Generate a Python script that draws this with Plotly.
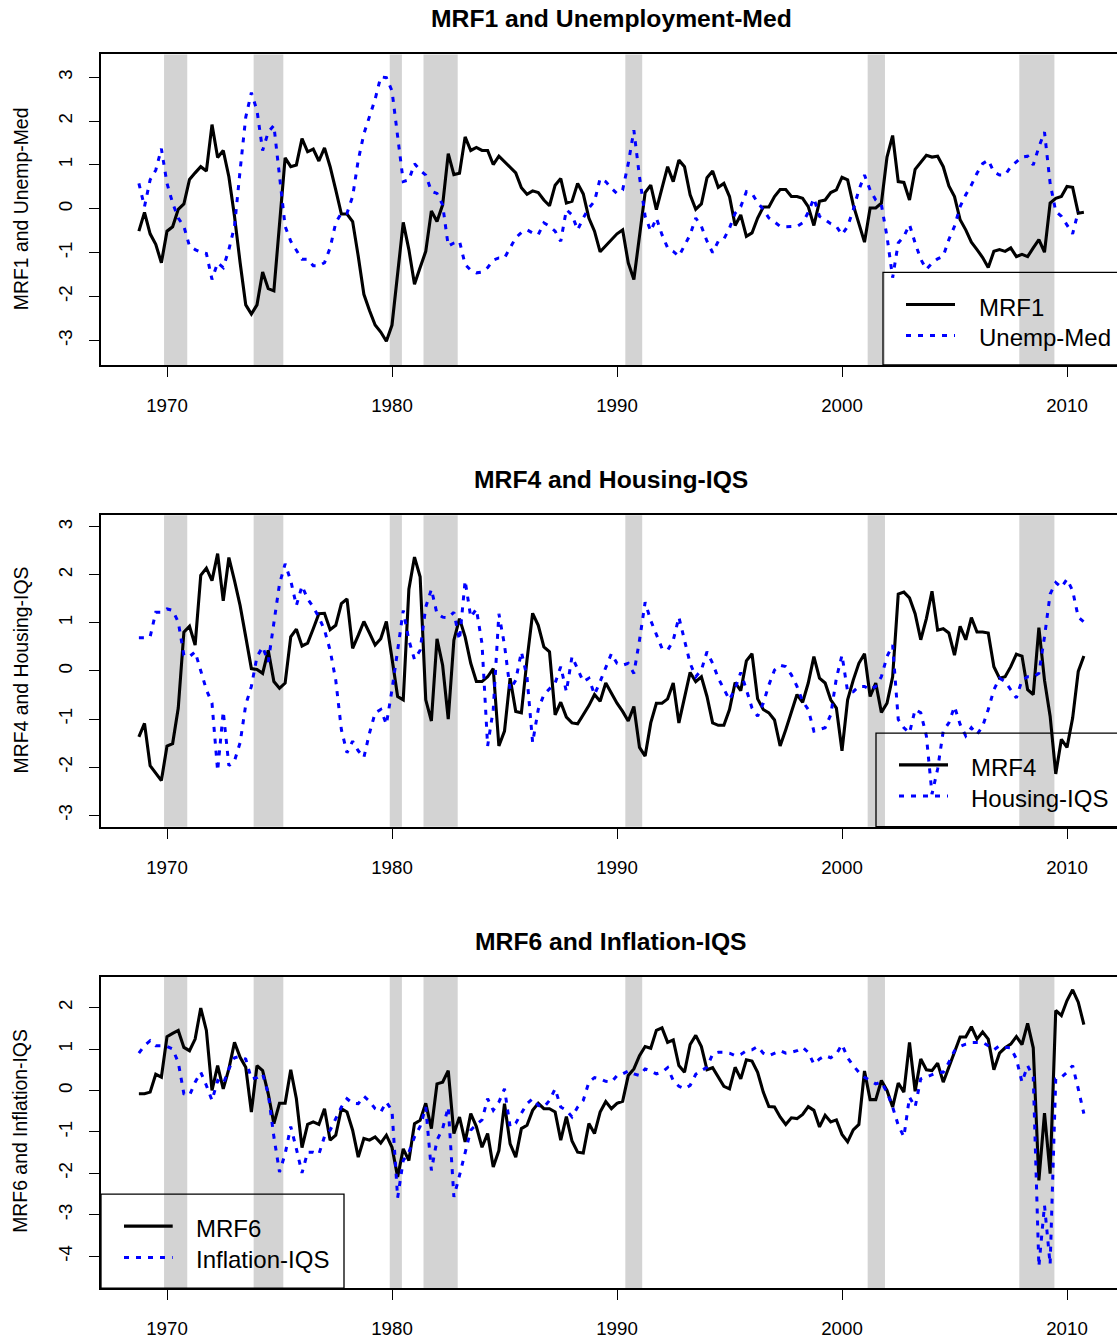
import plotly.graph_objects as go

# ---------------- data (quarterly, starting 1968 Q4 = 1968.75) ----------------
START_YEAR = 1968.75
STEP = 0.25

mrf1 = [-0.51, -0.08, -0.57, -0.81, -1.23, -0.51, -0.41, -0.01, 0.11, 0.67,
        0.82, 0.96, 0.86, 1.92, 1.17, 1.33, 0.73, -0.17, -1.23, -2.19,
        -2.40, -2.19, -1.44, -1.82, -1.87, -0.36, 1.16, 0.96, 1.00, 1.60,
        1.30, 1.36, 1.09, 1.39, 0.96, 0.43, -0.12, -0.12, -0.29, -1.08,
        -1.95, -2.32, -2.65, -2.81, -3.02, -2.65, -1.53, -0.31, -0.93, -1.72,
        -1.34, -0.97, -0.05, -0.29, 0.09, 1.26, 0.78, 0.81, 1.64, 1.33,
        1.40, 1.33, 1.33, 1.01, 1.20, 1.07, 0.94, 0.82, 0.48, 0.33,
        0.41, 0.37, 0.20, 0.07, 0.54, 0.69, 0.13, 0.17, 0.58, 0.34,
        -0.21, -0.51, -0.98, -0.85, -0.72, -0.57, -0.48, -1.23, -1.61, -0.63,
        0.37, 0.54, -0.02, 0.47, 0.96, 0.62, 1.11, 0.96, 0.32, -0.01,
        0.11, 0.71, 0.86, 0.49, 0.58, 0.28, -0.38, -0.14, -0.63, -0.55,
        -0.21, 0.04, 0.04, 0.28, 0.44, 0.44, 0.28, 0.28, 0.24, 0.05,
        -0.38, 0.17, 0.20, 0.37, 0.43, 0.72, 0.66, 0.09, -0.32, -0.76,
        0.02, 0.02, 0.13, 1.18, 1.67, 0.62, 0.60, 0.20, 0.90, 1.07,
        1.22, 1.18, 1.20, 0.96, 0.52, 0.28, -0.25, -0.48, -0.76, -0.93,
        -1.11, -1.34, -0.97, -0.93, -0.97, -0.89, -1.09, -1.04, -1.09, -0.89,
        -0.70, -0.99, 0.13, 0.24, 0.28, 0.51, 0.49, -0.10, -0.08]

unemp_med = [0.58, 0.05, 0.66, 0.88, 1.37, 0.58, 0.13, -0.21, -0.40, -0.85,
             -0.93, -0.99, -1.02, -1.61, -1.23, -1.34, -0.93, -0.40, 0.88, 2.09,
             2.65, 2.24, 1.33, 1.75, 1.90, 0.73, -0.40, -0.74, -0.93, -1.15,
             -1.15, -1.30, -1.30, -1.23, -0.89, -0.32, -0.10, -0.10, 0.28, 1.11,
             1.71, 2.09, 2.50, 3.01, 2.99, 2.69, 1.64, 0.62, 0.66, 1.03,
             0.88, 0.77, 0.40, 0.35, 0.09, -0.85, -0.78, -0.74, -1.27, -1.40,
             -1.46, -1.44, -1.34, -1.17, -1.12, -1.12, -0.89, -0.66, -0.54, -0.48,
             -0.55, -0.59, -0.32, -0.40, -0.51, -0.74, -0.02, -0.14, -0.48, -0.21,
             0.02, 0.17, 0.69, 0.62, 0.47, 0.35, 0.43, 1.03, 1.79, 0.73,
             -0.17, -0.51, -0.21, -0.59, -0.89, -0.97, -1.08, -0.85, -0.59, -0.21,
             -0.40, -0.74, -1.00, -0.74, -0.69, -0.44, -0.10, 0.05, 0.39, 0.35,
             0.14, -0.01, -0.21, -0.30, -0.40, -0.41, -0.41, -0.40, -0.32, -0.08,
             0.24, -0.17, -0.25, -0.34, -0.40, -0.59, -0.40, -0.02, 0.43, 0.77,
             0.43, 0.20, 0.09, -0.63, -1.57, -0.78, -0.63, -0.36, -0.78, -1.15,
             -1.38, -1.24, -1.14, -1.08, -0.70, -0.40, 0.05, 0.32, 0.54, 0.81,
             1.03, 1.11, 0.84, 0.77, 0.77, 0.96, 1.07, 1.18, 1.20, 1.00,
             1.41, 1.75, 0.58, -0.06, -0.17, -0.36, -0.57, -0.06]

mrf4 = [-1.37, -1.09, -1.97, -2.13, -2.28, -1.56, -1.51, -0.77, 0.81, 0.93,
        0.54, 1.99, 2.14, 1.88, 2.44, 1.46, 2.36, 1.88, 1.36, 0.71,
        0.05, 0.03, -0.05, 0.43, -0.22, -0.36, -0.25, 0.71, 0.87, 0.52,
        0.58, 0.88, 1.19, 1.20, 0.86, 0.95, 1.40, 1.50, 0.47, 0.74,
        1.03, 0.79, 0.54, 0.67, 1.03, 0.26, -0.53, -0.60, 1.70, 2.37,
        1.96, -0.60, -1.04, 0.67, 0.12, -1.00, 0.64, 1.09, 0.71, 0.16,
        -0.22, -0.22, -0.12, 0.05, -1.56, -1.25, -0.15, -0.84, -0.87, 0.23,
        1.20, 0.95, 0.50, 0.40, -0.91, -0.65, -0.96, -1.08, -1.10, -0.91,
        -0.72, -0.49, -0.63, -0.25, -0.46, -0.67, -0.84, -1.04, -0.74, -1.59,
        -1.77, -1.08, -0.67, -0.67, -0.58, -0.25, -1.08, -0.56, -0.03, -0.22,
        -0.12, -0.53, -1.08, -1.13, -1.13, -0.80, -0.24, -0.41, 0.21, 0.36,
        -0.58, -0.80, -0.87, -1.02, -1.56, -1.22, -0.87, -0.49, -0.65, -0.25,
        0.30, -0.15, -0.25, -0.60, -0.77, -1.66, -0.60, -0.19, 0.16, 0.36,
        -0.53, -0.25, -0.86, -0.67, -0.12, 1.60, 1.64, 1.52, 1.19, 0.65,
        1.09, 1.66, 0.85, 0.88, 0.79, 0.33, 0.93, 0.65, 1.11, 0.81,
        0.81, 0.79, 0.09, -0.15, -0.12, 0.09, 0.35, 0.31, -0.39, -0.49,
        0.90, -0.19, -0.94, -2.14, -1.42, -1.59, -0.98, -0.01, 0.31]

housing_iqs = [0.69, 0.69, 0.71, 1.22, 1.22, 1.29, 1.26, 1.02, 0.33, 0.30,
               0.40, 0.02, -0.39, -0.67, -2.08, -0.84, -1.97, -1.87, -1.49, -0.70,
               -0.32, 0.30, 0.50, 0.19, 1.05, 1.81, 2.23, 1.88, 1.36, 1.77,
               1.50, 1.33, 1.12, 0.85, 0.43, -0.19, -1.22, -1.70, -1.46, -1.66,
               -1.80, -1.29, -0.87, -0.80, -1.11, -0.39, 0.43, 1.26, 0.64, 0.24,
               0.43, 1.33, 1.70, 1.19, 1.12, 1.11, 1.22, 0.64, 1.88, 1.12,
               1.29, 0.57, -1.56, -0.80, 1.19, 0.54, -0.39, -0.19, 0.40, -0.12,
               -1.49, -0.80, -0.49, -0.36, -0.25, 0.09, -0.43, 0.30, 0.05, -0.22,
               -0.15, -0.49, -0.22, 0.09, 0.36, 0.16, 0.12, 0.16, -0.05, 0.64,
               1.43, 1.05, 0.74, 0.47, 0.43, 0.64, 1.12, 0.64, 0.16, -0.12,
               0.02, 0.40, 0.16, -0.15, -0.36, -0.60, -0.36, -0.03, -0.39, -0.77,
               -0.94, -0.67, -0.29, 0.02, 0.12, 0.09, -0.08, -0.32, -0.63, -0.80,
               -1.25, -1.22, -1.18, -0.91, -0.15, 0.33, -0.43, -0.43, -0.32, -0.32,
               -0.39, -0.32, -0.12, 0.30, 0.54, -1.01, -1.18, -1.29, -0.80, -0.87,
               -1.35, -2.56, -2.04, -1.25, -1.08, -0.74, -1.11, -1.35, -1.18, -1.32,
               -1.15, -0.80, -0.39, -0.15, -0.22, -0.39, -0.56, -0.19, -0.12, -0.12,
               -0.05, 0.71, 1.60, 1.84, 1.74, 1.91, 1.67, 1.12, 1.02]

mrf6 = [-0.08, -0.08, -0.04, 0.39, 0.32, 1.30, 1.38, 1.45, 1.04, 0.96,
        1.24, 1.99, 1.45, 0.00, 0.60, 0.04, 0.52, 1.16, 0.80, 0.56,
        -0.52, 0.60, 0.48, -0.08, -0.80, -0.31, -0.31, 0.50, -0.20, -1.38,
        -0.82, -0.76, -0.82, -0.44, -1.20, -1.08, -0.44, -0.52, -0.96, -1.61,
        -1.16, -1.20, -1.12, -1.27, -1.08, -1.37, -2.09, -1.41, -1.69, -0.80,
        -0.72, -0.31, -0.92, 0.16, 0.20, 0.48, -1.04, -0.64, -1.24, -0.56,
        -0.87, -1.37, -1.04, -1.85, -1.45, -0.32, -1.29, -1.61, -0.92, -0.84,
        -0.48, -0.31, -0.44, -0.44, -0.52, -1.20, -0.63, -1.22, -1.49, -1.51,
        -0.80, -1.04, -0.52, -0.27, -0.44, -0.31, -0.26, 0.36, 0.52, 0.84,
        1.06, 1.02, 1.45, 1.51, 1.16, 1.22, 0.60, 0.44, 1.11, 1.33,
        1.06, 0.50, 0.55, 0.32, 0.10, 0.04, 0.56, 0.28, 0.74, 0.71,
        0.44, -0.04, -0.39, -0.40, -0.64, -0.82, -0.66, -0.68, -0.58, -0.39,
        -0.48, -0.88, -0.60, -0.76, -0.71, -1.06, -1.24, -0.95, -0.82, 0.47,
        -0.22, -0.22, 0.24, 0.00, -0.40, 0.18, -0.04, 1.16, -0.02, 0.76,
        0.50, 0.48, 0.66, 0.20, 0.56, 0.96, 1.29, 1.29, 1.54, 1.24,
        1.41, 1.24, 0.50, 0.90, 1.03, 1.12, 1.30, 1.11, 1.62, 1.03,
        -2.17, -0.55, -2.01, 1.93, 1.81, 2.17, 2.43, 2.13, 1.59]

inflation_iqs = [0.90, 1.08, 1.20, 1.08, 1.08, 1.06, 1.00, 0.68, -0.08, -0.12,
                 0.20, 0.44, 0.12, -0.24, 0.24, 0.16, 0.52, 0.79, 0.82, 0.76,
                 0.28, 0.31, 0.40, -0.08, -1.12, -1.97, -1.53, -0.87, -1.41, -1.99,
                 -1.49, -1.49, -1.54, -1.11, -0.96, -0.68, -0.40, -0.20, -0.31, -0.32,
                 -0.14, -0.26, -0.44, -0.52, -0.28, -0.48, -2.59, -1.69, -1.49, -1.12,
                 -0.87, -0.40, -1.93, -1.20, -0.92, -0.40, -2.57, -2.05, -1.53, -0.96,
                 -0.82, -0.71, -0.20, -0.48, -0.28, 0.04, -0.88, -0.79, -0.55, -0.32,
                 -0.20, -0.36, -0.40, -0.24, 0.04, -0.40, -0.48, -0.64, -0.40, -0.24,
                 0.20, 0.31, 0.28, 0.22, 0.20, 0.36, 0.40, 0.47, 0.40, 0.36,
                 0.52, 0.47, 0.40, 0.44, 0.55, 0.24, 0.10, 0.04, 0.12, 0.39,
                 0.48, 0.56, 0.88, 0.92, 0.92, 0.90, 0.84, 0.87, 0.96, 0.98,
                 1.06, 0.90, 0.84, 0.90, 0.96, 0.90, 0.92, 0.96, 1.04, 0.92,
                 0.64, 0.76, 0.84, 0.79, 0.88, 1.11, 0.79, 0.60, 0.44, 0.32,
                 0.24, 0.16, 0.20, -0.04, -0.40, -0.84, -1.12, -0.16, -0.40, 0.28,
                 0.32, 0.39, 0.44, 0.44, 0.68, 0.96, 1.06, 1.12, 1.16, 1.16,
                 1.16, 1.08, 0.98, 1.08, 1.04, 1.03, 0.76, 0.20, 0.60, 0.32,
                 -4.25, -2.77, -4.20, 0.28, 0.32, 0.44, 0.60, 0.04, -0.56]

# NBER recession periods (decimal years)
recession_start = [1969.87, 1973.85, 1979.9, 1981.4, 1990.37, 2001.14, 2007.88]
recession_end = [1970.9, 1975.17, 1980.44, 1982.92, 1991.12, 2001.91, 2009.44]

panel_titles = ["MRF1 and Unemployment-Med", "MRF4 and Housing-IQS", "MRF6 and Inflation-IQS"]
ylabels = ["MRF1 and Unemp-Med", "MRF4 and Housing-IQS", "MRF6 and Inflation-IQS"]
factor_names = ["MRF1", "MRF4", "MRF6"]
indicator_names = ["Unemp-Med", "Housing-IQS", "Inflation-IQS"]
year_ticks = [1970, 1980, 1990, 2000, 2010]
ytick_sets = [[-3, -2, -1, 0, 1, 2, 3], [-3, -2, -1, 0, 1, 2, 3], [-4, -3, -2, -1, 0, 1, 2]]

# ---------------- layout geometry (pixels) ----------------
W, H = 1117, 1339
FONT = "Liberation Sans, Arial, Helvetica, sans-serif"
BLUE = "#0000FF"
DOT = "5px,7px"


def px_x(p):
    return p / W


def px_y(p):
    return 1 - p / H


boxes = [(54.5, 365.5), (516, 828), (978, 1290)]  # top, bottom
yranges = [[-3.56, 3.52], [-3.24, 3.24], [-4.77, 2.75]]
xrange_ = [1970 - 66 / 22.5, 1970 + (W - 167) / 22.5]

factors = [mrf1, mrf4, mrf6]
indicators = [unemp_med, housing_iqs, inflation_iqs]

fig = go.Figure()
shapes = []
annotations = []

for k in range(3):
    sfx = "" if k == 0 else str(k + 1)
    xa, ya = "x" + sfx, "y" + sfx
    fv = factors[k]
    iv = indicators[k]
    xf = [START_YEAR + STEP * i for i in range(len(fv))]
    xi = [START_YEAR + STEP * i for i in range(len(iv))]
    fig.add_trace(go.Scatter(x=xf, y=fv, mode="lines", xaxis=xa, yaxis=ya,
                             line=dict(color="black", width=3.1), showlegend=False,
                             name=factor_names[k]))
    fig.add_trace(go.Scatter(x=xi, y=iv, mode="lines", xaxis=xa, yaxis=ya,
                             line=dict(color=BLUE, width=3, dash=DOT), showlegend=False,
                             name=indicator_names[k]))
    top, bot = boxes[k]
    axis_common = dict(showgrid=False, zeroline=False, showline=True, linecolor="black",
                       linewidth=1.5, ticks="outside", ticklen=10, tickwidth=1.3,
                       tickcolor="black", tickfont=dict(family=FONT, size=18.7, color="black"))
    fig.update_layout(**{
        ("xaxis" + sfx): dict(domain=[px_x(101), 1.0], range=xrange_, anchor=ya,
                              tickvals=year_ticks, ticktext=[str(t) for t in year_ticks],
                              mirror=True, ticklabelstandoff=13, **axis_common),
        ("yaxis" + sfx): dict(domain=[px_y(bot), px_y(top)], range=yranges[k], anchor=xa,
                              tickvals=ytick_sets[k],
                              ticktext=[str(t) for t in ytick_sets[k]],  # ASCII hyphen minus
                              tickangle=-90, ticklabelstandoff=10, **axis_common),
    })
    # recession shading
    for s, e in zip(recession_start, recession_end):
        shapes.append(dict(type="rect", xref=xa, yref=ya + " domain", x0=s, x1=e, y0=0, y1=1,
                           fillcolor="#D3D3D3", line=dict(width=0), layer="below"))
    # panel title
    annotations.append(dict(text="<b>" + panel_titles[k] + "</b>", xref="paper", yref="paper",
                            x=px_x(611), y=px_y(top - 35.5), xanchor="center", yanchor="middle",
                            showarrow=False, font=dict(family=FONT, size=24.7, color="black")))
    # y-axis label
    annotations.append(dict(text=ylabels[k], xref="paper", yref="paper", textangle=-90,
                            x=px_x(20.5), y=px_y((top + bot) / 2 - 1), xanchor="center",
                            yanchor="middle", showarrow=False,
                            font=dict(family=FONT, size=19.4, color="black")))

# legends (transparent box, as in the original)
legend_geo = [
    # box x0, x1, y0(top), y1(bottom), line x0, x1, line y1, line y2, text x
    (883, 1135, 272.7, 365.5, 906, 955, 305, 336, 977),
    (876, 1135, 734.3, 828, 899, 948, 766, 797.3, 969),
    (101, 344, 1196, 1290, 124, 172.7, 1228, 1259.3, 194),
]
for k, (bx0, bx1, by0, by1, lx0, lx1, ly1, ly2, tx) in enumerate(legend_geo):
    shapes.append(dict(type="rect", xref="paper", yref="paper", x0=px_x(bx0), x1=px_x(bx1),
                       y0=px_y(by1), y1=px_y(by0), line=dict(color="black", width=1.3),
                       fillcolor="rgba(0,0,0,0)", layer="above"))
    shapes.append(dict(type="line", xref="paper", yref="paper", x0=px_x(lx0), x1=px_x(lx1),
                       y0=px_y(ly1), y1=px_y(ly1), line=dict(color="black", width=3.1),
                       layer="above"))
    shapes.append(dict(type="line", xref="paper", yref="paper", x0=px_x(lx0), x1=px_x(lx1),
                       y0=px_y(ly2), y1=px_y(ly2), line=dict(color=BLUE, width=3, dash=DOT),
                       layer="above"))
    for name, ly in ((factor_names[k], ly1), (indicator_names[k], ly2)):
        annotations.append(dict(text=name, xref="paper", yref="paper", x=px_x(tx),
                                y=px_y(ly + 2.5), xanchor="left", yanchor="middle",
                                showarrow=False,
                                font=dict(family=FONT, size=24, color="black")))

fig.update_layout(width=W, height=H, autosize=False,
                  margin=dict(l=0, r=0, t=0, b=0, pad=0),
                  paper_bgcolor="white", plot_bgcolor="white",
                  shapes=shapes, annotations=annotations, showlegend=False)

fig.write_html("out.html")
